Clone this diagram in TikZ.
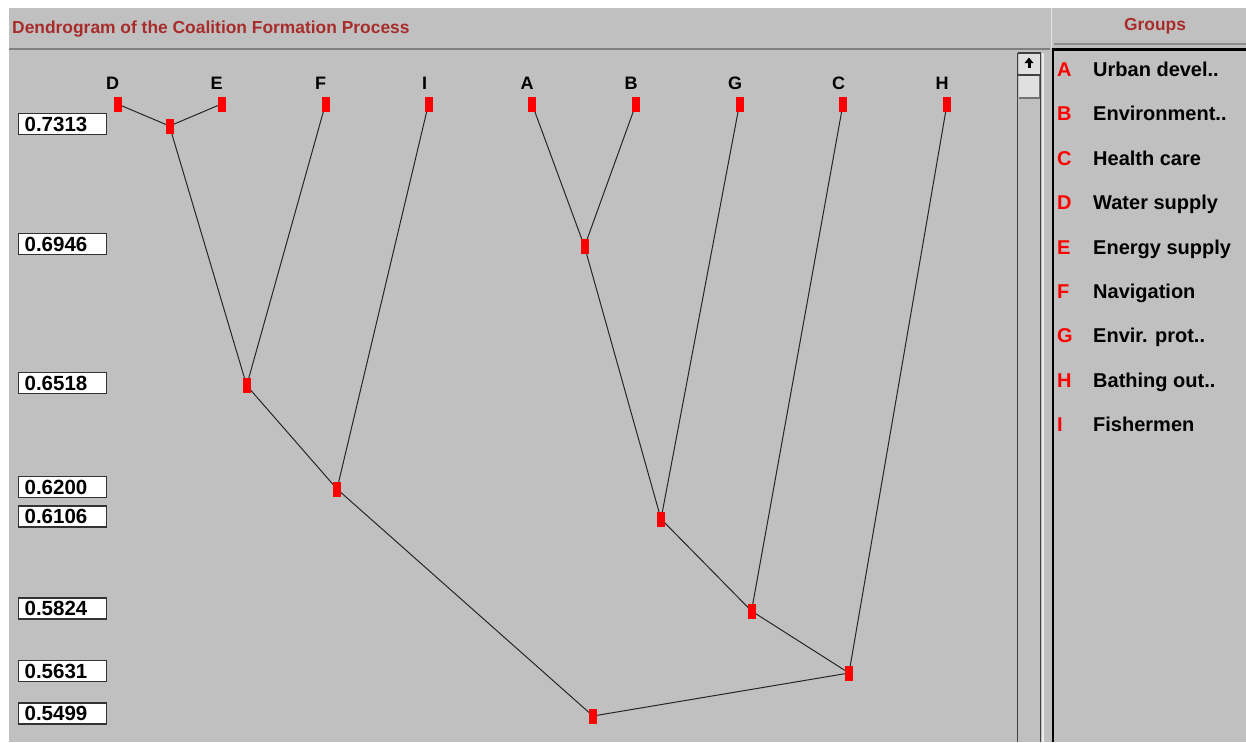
\documentclass[tikz,border=0pt]{standalone}
\usepackage{fontspec}
\setmainfont{Liberation Sans}
\definecolor{winbg}{RGB}{192,192,192}
\definecolor{ttl}{RGB}{168,44,44}
\definecolor{mkred}{RGB}{255,0,0}
\definecolor{dkline}{RGB}{64,64,64}
\pgfdeclarelayer{back}
\pgfdeclarelayer{links}
\pgfsetlayers{back,links,main}
\begin{document}
\begin{tikzpicture}[x=1pt,y=-1pt,
  mk/.style={fill=mkred, draw=none, minimum width=8pt, minimum height=15pt, inner sep=0pt},
  lnk/.style={draw=black!85, line width=1pt},
  leaflbl/.style={font=\fontsize{18}{18}\selectfont\bfseries, anchor=base, inner sep=0pt},
  valbox/.style={draw=black!80, line width=1.3pt, fill=white, minimum width=88pt, minimum height=21pt,
     text width=76pt, align=left, inner xsep=6pt, inner ysep=0pt, anchor=west,
     font=\fontsize{20.5}{20.5}\selectfont\bfseries},
  legkey/.style={font=\fontsize{20}{20}\selectfont\bfseries, text=mkred, anchor=base west, inner sep=0pt},
  legtxt/.style={font=\fontsize{20}{20}\selectfont\bfseries, anchor=base west, inner sep=0pt},
  paneltitle/.style={font=\fontsize{17.4}{17.4}\selectfont\bfseries, text=ttl, inner sep=0pt}]
\useasboundingbox (0,0) rectangle (1246,742);
\begin{pgfonlayer}{back}
  \fill[white] (0,0) rectangle (1246,742);
  \fill[winbg] (9,8) rectangle (1246,742);
  % separators
  \draw[black!50, line width=2pt] (9,49) -- (1050,49);
  \draw[white!90!black, line width=1.2pt] (1051.5,8) -- (1051.5,48);
  \draw[black!45, line width=2pt] (1054,44) -- (1246,44);
  % right panel frame
  \draw[black, line width=2.5pt] (1053,742) -- (1053,49.5) -- (1246,49.5);
  % scrollbar
  \draw[dkline, line width=1.5pt] (1017.5,53) -- (1017.5,742);
  \draw[dkline, line width=1.5pt] (1040.5,53) -- (1040.5,742);
  \draw[white!92!black, line width=1.5pt] (1042.8,53) -- (1042.8,742);
  \draw[dkline, line width=1.5pt] (1017.5,53) -- (1040.5,53);
  \fill[black!12] (1018.5,54) rectangle (1039.5,73.5);
  \draw[dkline, line width=2pt] (1018,74.5) -- (1040,74.5);
  \fill[black!12] (1018.5,76) rectangle (1039.5,97);
  \draw[black!55, line width=1.5pt] (1018.5,97.8) -- (1039.5,97.8);
  \draw[black!55, line width=1pt] (1039,76) -- (1039,97);
  \fill[black] (1029,57.5) -- (1024.5,63) -- (1033.5,63) -- cycle;
  \fill[black] (1027.5,63) rectangle (1030.5,67.5);
\end{pgfonlayer}

% titles
\node[paneltitle, anchor=base west] (title) at (12,33) {Dendrogram of the Coalition Formation Process};
\node[paneltitle, anchor=base] (groups) at (1155,30) {Groups};

% leaves
\node[mk] (D) at (117.5,104) {};
\node[mk] (E) at (221.5,104) {};
\node[mk] (F) at (325.5,104) {};
\node[mk] (I) at (428.5,104) {};
\node[mk] (A) at (532,104) {};
\node[mk] (B) at (636,104) {};
\node[mk] (G) at (739.5,104) {};
\node[mk] (C) at (843,104) {};
\node[mk] (H) at (947,104) {};

\node[leaflbl] (lD) at (112.5,89) {D};
\node[leaflbl] (lE) at (216.5,89) {E};
\node[leaflbl] (lF) at (320.5,89) {F};
\node[leaflbl] (lI) at (424.5,89) {I};
\node[leaflbl] (lA) at (527,89) {A};
\node[leaflbl] (lB) at (631,89) {B};
\node[leaflbl] (lG) at (735,89) {G};
\node[leaflbl] (lC) at (838.5,89) {C};
\node[leaflbl] (lH) at (942,89) {H};

% internal nodes
\node[mk] (DE) at (169.5,126) {};
\node[mk] (AB) at (584.5,246.5) {};
\node[mk] (DEF) at (246.7,385.5) {};
\node[mk] (DEFI) at (337,489) {};
\node[mk] (ABG) at (661,519) {};
\node[mk] (ABGC) at (751.5,611) {};
\node[mk] (ABGCH) at (849,673) {};
\node[mk] (ALL) at (593,716) {};

\begin{pgfonlayer}{links}
  \draw[lnk] (D.center) -- (DE.center) -- (E.center);
  \draw[lnk] (DE.center) -- (DEF.center) -- (F.center);
  \draw[lnk] (DEF.center) -- (DEFI.center) -- (I.center);
  \draw[lnk] (A.center) -- (AB.center) -- (B.center);
  \draw[lnk] (AB.center) -- (ABG.center) -- (G.center);
  \draw[lnk] (ABG.center) -- (ABGC.center) -- (C.center);
  \draw[lnk] (ABGC.center) -- (ABGCH.center) -- (H.center);
  \draw[lnk] (DEFI.center) -- (ALL.center) -- (ABGCH.center);
\end{pgfonlayer}

% level values
\node[valbox] (v1) at (18,124) {0.7313};
\node[valbox] (v2) at (18,244) {0.6946};
\node[valbox] (v3) at (18,383) {0.6518};
\node[valbox] (v4) at (18,487) {0.6200};
\node[valbox] (v5) at (18,516.5) {0.6106};
\node[valbox] (v6) at (18,608.5) {0.5824};
\node[valbox] (v7) at (18,671) {0.5631};
\node[valbox] (v8) at (18,713.5) {0.5499};

% legend
\node[legkey] (kA) at (1057,76.5) {A};   \node[legtxt] (tA) at (1093,76.5) {Urban devel..};
\node[legkey] (kB) at (1057,120.9) {B};  \node[legtxt] (tB) at (1093,120.9) {Environment..};
\node[legkey] (kC) at (1057,165.3) {C};  \node[legtxt] (tC) at (1093,165.3) {Health care};
\node[legkey] (kD) at (1057,209.7) {D};  \node[legtxt] (tD) at (1093,209.7) {Water supply};
\node[legkey] (kE) at (1057,254.1) {E};  \node[legtxt] (tE) at (1093,254.1) {Energy supply};
\node[legkey] (kF) at (1057,298.5) {F};  \node[legtxt] (tF) at (1093,298.5) {Navigation};
\node[legkey] (kG) at (1057,342.9) {G};  \node[legtxt] (tG) at (1093,342.9) {Envir. prot..};
\node[legkey] (kH) at (1057,387.3) {H};  \node[legtxt] (tH) at (1093,387.3) {Bathing out..};
\node[legkey] (kI) at (1057,431.7) {I};   \node[legtxt] (tI) at (1093,431.7) {Fishermen};
\end{tikzpicture}
\end{document}
